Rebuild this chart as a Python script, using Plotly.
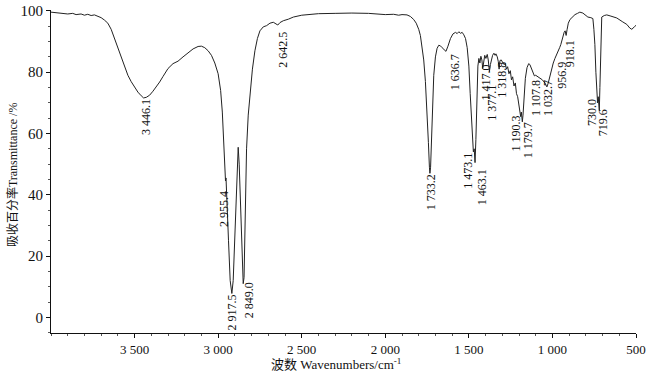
import plotly.graph_objects as go

# Spectrum points (wavenumber cm-1, transmittance %)
wavenumber = [4000, 3950, 3900, 3870, 3850, 3820, 3800, 3780, 3760, 3740, 3720, 3700, 3680, 3660, 3640,
              3620, 3600, 3580, 3560, 3540, 3520, 3500, 3480, 3460, 3446, 3430, 3410, 3390, 3370, 3350,
              3330, 3300, 3270, 3240, 3210, 3180, 3150, 3120, 3100, 3080, 3060, 3040, 3020, 3000, 2985,
              2975, 2968, 2962, 2958, 2956, 2953, 2948, 2938, 2928, 2918, 2910, 2900, 2892, 2885, 2880,
              2874, 2866, 2858, 2850, 2845, 2838, 2830, 2820, 2810, 2795, 2780, 2765, 2750, 2730, 2710,
              2690, 2670, 2655, 2643, 2630, 2610, 2580, 2550, 2500, 2450, 2400, 2300, 2250, 2200, 2100,
              2050, 2000, 1950, 1920, 1900, 1870, 1850, 1830, 1815, 1800, 1790, 1780, 1770, 1760, 1750,
              1742, 1736, 1733, 1729, 1724, 1718, 1710, 1700, 1690, 1680, 1670, 1660, 1648, 1637, 1625,
              1610, 1595, 1580, 1570, 1560, 1550, 1540, 1530, 1520, 1510, 1500, 1492, 1485, 1478, 1473,
              1468, 1463, 1458, 1452, 1446, 1440, 1434, 1428, 1422, 1417, 1412, 1405, 1398, 1390, 1384,
              1377, 1371, 1365, 1358, 1350, 1343, 1338, 1330, 1324, 1319, 1314, 1306, 1298, 1290, 1282,
              1275, 1268, 1260, 1252, 1245, 1238, 1230, 1222, 1215, 1208, 1200, 1195, 1190, 1186, 1182,
              1180, 1176, 1170, 1162, 1152, 1142, 1135, 1125, 1115, 1108, 1100, 1090, 1075, 1060, 1045,
              1033, 1025, 1015, 1005, 995, 985, 975, 965, 957, 950, 940, 930, 924, 918, 912,
              905, 895, 880, 865, 850, 836, 818, 800, 788, 770, 758, 752, 746, 740, 735,
              730, 726, 722, 719.6, 716, 712, 708, 705, 690, 675, 650, 615, 579, 555,
              537, 525, 510, 500]
transmittance = [99.6, 99.4, 99.0, 99.2, 98.8, 99.0, 98.6, 98.9, 98.5, 98.7, 98.2, 97.8, 97.0, 96.0, 94.0,
                 91.0, 87.5, 84.5, 81.8, 79.0, 76.9, 75.2, 73.5, 72.3, 71.6, 71.8, 72.5, 73.8, 75.2, 76.8,
                 78.6, 81.2, 82.8, 83.6, 85.0, 86.3, 87.6, 88.4, 88.5, 88.0, 87.0, 85.5, 83.0, 79.5, 74.0,
                 67.0, 58.0, 50.0, 46.0, 44.5, 45.5, 40.0, 25.0, 12.0, 7.8, 12.0, 28.0, 42.0, 52.0, 55.5,
                 50.0, 35.0, 20.0, 11.0, 13.0, 35.0, 55.0, 66.0, 72.0, 81.0, 87.0, 91.0, 93.5, 94.8, 95.2,
                 96.0, 96.3, 95.8, 95.4, 96.2, 96.8, 97.3, 98.0, 98.6, 98.9, 99.1, 99.2, 99.3, 99.3, 99.2,
                 99.0, 98.8, 98.9, 98.6, 98.8, 98.7, 98.2, 97.2, 96.0, 94.0, 92.0, 88.5, 84.0, 77.0, 68.0,
                 57.0, 49.0, 47.0, 49.0, 58.0, 70.0, 79.0, 85.0, 87.8, 88.8, 88.6, 88.0, 87.4, 86.8, 88.5,
                 91.0, 92.5, 93.0, 92.6, 93.2, 92.7, 93.0, 92.2, 91.0, 88.0, 82.0, 73.0, 64.0, 57.0, 54.0,
                 55.0, 50.5, 58.0, 72.0, 82.0, 84.5, 83.0, 85.2, 84.0, 81.2, 84.0, 85.5, 84.5, 85.8, 84.0,
                 80.2, 82.5, 84.5, 85.5, 86.2, 85.5, 86.0, 85.0, 83.5, 81.0, 83.8, 84.0, 83.2, 82.5, 82.8,
                 81.0, 81.8, 79.5, 80.5, 77.5, 78.5, 75.5, 76.5, 73.0, 72.0, 69.0, 68.0, 65.5, 67.0, 64.5,
                 63.8, 66.0, 72.0, 78.0, 81.5, 82.8, 82.5, 81.0, 79.5, 78.8, 79.0, 78.6, 78.0, 77.5, 76.5,
                 75.2, 76.5, 79.0, 81.0, 83.0, 84.5, 86.0, 87.5, 88.0, 89.0, 91.5, 93.0, 93.5, 92.0, 94.0,
                 96.0, 97.2, 98.0, 98.8, 99.2, 99.6, 99.3, 98.6, 98.0, 97.8, 97.5, 94.0, 89.0, 80.0, 73.0,
                 70.0, 72.0, 68.0, 67.5, 75.0, 88.0, 95.0, 98.0, 98.5, 98.7, 98.3, 97.7, 96.4, 95.6,
                 94.4, 94.0, 94.8, 95.3]

# Peak labels: text, label centre (wavenumber, transmittance)
peak_text = ["3 446.1", "2 955.4", "2 917.5", "2 849.0", "2 642.5", "1 733.2", "1 636.7",
             "1 473.1", "1 463.1", "1 417.0", "1 377.1", "1 318.8", "1 190.3", "1 179.7",
             "1 107.8", "1 032.7", "956.9", "918.1", "730.0", "719.6"]
peak_label_x = [3432, 2968, 2917, 2815, 2612, 1727, 1583, 1503, 1421, 1400, 1362, 1302,
                1218, 1146, 1098, 1026, 940, 898, 763, 697]
peak_label_y = [65.4, 35.5, 1.6, 5.6, 87.3, 40.8, 80.0, 48.0, 42.5, 76.5, 70.0, 77.5,
                60.0, 57.8, 71.6, 71.6, 79.0, 86.0, 66.7, 63.4]

tick_vals = [3500, 3000, 2500, 2000, 1500, 1000, 500]
tick_text = ["3 500", "3 000", "2 500", "2 000", "1 500", "1 000", "500"]
y_tick_vals = [0, 20, 40, 60, 80, 100]

SERIF = "Liberation Serif, Noto Sans CJK SC, serif"

fig = go.Figure()
fig.add_trace(go.Scatter(x=wavenumber, y=transmittance, mode="lines",
                         line=dict(color="#222222", width=1), showlegend=False,
                         hoverinfo="skip"))

for t, px, py in zip(peak_text, peak_label_x, peak_label_y):
    fig.add_annotation(x=px, y=py, text=t, showarrow=False, textangle=-90,
                       xanchor="center", yanchor="middle",
                       font=dict(family=SERIF, size=12, color="#111111"))

fig.add_annotation(xref="paper", yref="paper", x=-0.066, y=0.49,
                   text="吸收百分率Transmittance /%", showarrow=False, textangle=-90,
                   xanchor="center", yanchor="middle",
                   font=dict(family=SERIF, size=12, color="#111111"))
fig.add_annotation(xref="paper", yref="paper", x=0.487, y=-0.096,
                   text="波数 Wavenumbers/cm<sup>-1</sup>", showarrow=False,
                   xanchor="center", yanchor="middle",
                   font=dict(family=SERIF, size=13, color="#111111"))

fig.update_layout(
    width=650, height=375, autosize=False,
    margin=dict(l=51, r=14, t=10, b=42, autoexpand=False),
    paper_bgcolor="white", plot_bgcolor="white",
    xaxis=dict(range=[4000, 500], tickvals=tick_vals, ticktext=tick_text, automargin=False,
               showline=True, linecolor="#111111", linewidth=1, showgrid=False,
               zeroline=False, ticks="outside", ticklen=4, tickcolor="#111111",
               tickfont=dict(family=SERIF, size=13, color="#111111"),
               minor=dict(ticks="outside", ticklen=2, dtick=100, tickcolor="#555555")),
    yaxis=dict(range=[-5.1, 100.3], tickvals=y_tick_vals, automargin=False,
               showline=True, linecolor="#111111", linewidth=1, showgrid=False,
               zeroline=False, ticks="outside", ticklen=4, tickcolor="#111111",
               tickfont=dict(family=SERIF, size=15, color="#111111"),
               minor=dict(ticks="outside", ticklen=2, dtick=5, tickcolor="#555555")),
)

# remove the default page margin so the 650x375 figure fills the window exactly
fig.write_html("out.html", config={"displayModeBar": False},
               post_script="document.body.style.margin='0px';")
